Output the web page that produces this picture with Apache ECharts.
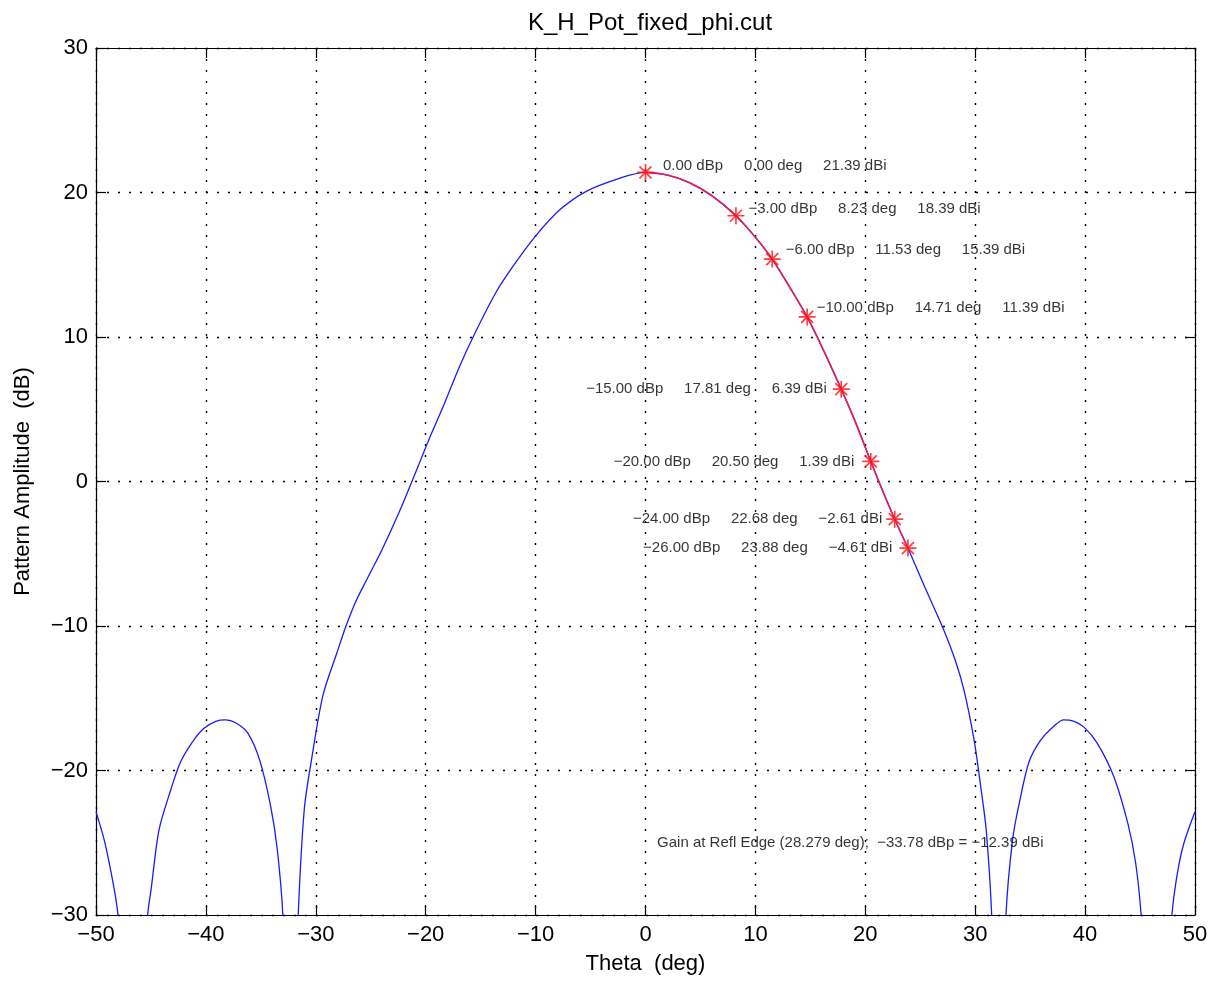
<!DOCTYPE html>
<html>
<head>
<meta charset="utf-8">
<script src="https://cdn.jsdelivr.net/npm/echarts@6/dist/echarts.min.js"></script>
<style>
html,body{margin:0;padding:0;background:#fff;}
#chart{width:1218px;height:982px;}
</style>
</head>
<body>
<div id="chart"></div>
<script>
// ---- data ----
const titleText = 'K_H_Pot_fixed_phi.cut';
const xTicks = [-50, -40, -30, -20, -10, 0, 10, 20, 30, 40, 50];
const yTicks = [-30, -20, -10, 0, 10, 20, 30];

const patternTheta = [
  -50, -49.1, -48.0, -46.6, -45.3, -45.0, -44.26, -43.2, -42.3, -41.2, -40.2, -39.1, -38.2,
  -37.3, -36.2, -35.1, -34.1, -33.5, -33.0, -32.3, -31.6, -31.05, -30.4, -29.35, -28.1, -27.2,
  -26.3, -25.3, -23.9, -22.4, -21.2, -20.4, -19.6, -18.4, -16.9, -15.5, -13.6, -12.05, -10.1,
  -7.8, -5.35, -2.3, 0, 2, 4, 6, 8.23, 10, 11.53, 13, 14.71, 16, 17.81, 19, 20.5, 21.5, 22.68,
  23.88, 25.35, 27.1, 28.2, 29.0, 29.9, 30.5, 31.0, 31.5, 32.15, 32.8, 33.4, 34.0, 34.9, 35.96,
  37.2, 38.06, 39.0, 39.9, 41.1, 42.6, 43.9, 44.6, 45.1, 46.5, 47.9, 48.4, 49.0, 50
];
const patternDb = [
  -22.85, -25.3, -30, -45, -30, -28.3, -24.1, -21.35, -19.4, -18.0, -17.1, -16.6, -16.5,
  -16.7, -17.4, -19.3, -22.5, -25.5, -30, -45, -30, -22.7, -19.3, -14.8, -11.9, -9.9,
  -8.2, -6.7, -4.6, -2.1, 0.1, 1.6, 3.1, 5.2, 8.0, 10.3, 13.1, 14.9, 16.9,
  18.8, 20.1, 21.0, 21.39, 21.21, 20.68, 19.8, 18.39, 16.9, 15.39, 13.6, 11.39, 9.4, 6.39, 4.3, 1.39, -0.5, -2.61,
  -4.61, -7.2, -10.2, -12.4, -14.5, -17.9, -21.1, -24.1, -30, -45, -30, -24.8, -22.3, -19.4, -17.9,
  -16.9, -16.5, -16.6, -17.0, -18.1, -20.4, -23.7, -26.4, -30, -45, -30, -27.1, -25.0, -22.85
];

const markerTheta = [0, 8.23, 11.53, 14.71, 17.81, 20.50, 22.68, 23.88];
const markerDbp   = [0, -3, -6, -10, -15, -20, -24, -26];
const markerDbi   = [21.39, 18.39, 15.39, 11.39, 6.39, 1.39, -2.61, -4.61];

const reflEdgeTheta = 28.279;
const reflEdgeDbp = -33.78;
const reflEdgeDbi = -12.39;
const reflNoteAnchor = [1.05, -25.0];

// ---- build ----
const minus = s => String(s).replace('-', '\u2212');
const fmt = v => minus(v.toFixed(2));

const mainData = patternTheta.map((t, i) => [t, patternDb[i]]);
const redData = mainData.filter(p => p[0] >= markerTheta[0] && p[0] <= markerTheta[markerTheta.length - 1]);

const w = 0.1, d = 0.707, e = w * 0.707;
const asterisk = 'path://' +
  `M${-w},-1L${w},-1L${w},1L${-w},1Z` +
  `M-1,${-w}L1,${-w}L1,${w}L-1,${w}Z` +
  `M${-d - e},${-d + e}L${-d + e},${-d - e}L${d + e},${d - e}L${d - e},${d + e}Z` +
  `M${-d + e},${d + e}L${-d - e},${d - e}L${d - e},${-d - e}L${d + e},${-d + e}Z`;

// label placement (style only)
const labelPlace = [
  {position: 'right', offset: [9, -7]},
  {position: 'right', offset: [4, -7]},
  {position: 'right', offset: [5, -9]},
  {position: 'right', offset: [1, -9]},
  {position: 'left', offset: [-6, 0]},
  {position: 'left', offset: [-8, 0]},
  {position: 'left', offset: [-4, 0]},
  {position: 'left', offset: [-7, 0]}
];

const FONT = '"Liberation Sans", Arial, Helvetica, sans-serif';

const markerData = markerTheta.map((t, i) => ({
  value: [t, markerDbi[i]],
  label: {
    show: true,
    position: labelPlace[i].position,
    distance: 0,
    offset: labelPlace[i].offset,
    color: '#000', fontFamily: FONT, fontSize: 15,
    formatter: fmt(markerDbp[i]) + ' dBp     ' + fmt(t) + ' deg     ' + fmt(markerDbi[i]) + ' dBi'
  }
}));

const gridLine = {show: true, lineStyle: {color: '#000', width: 1.4, type: [2, 9]}};

const chart = echarts.init(document.getElementById('chart'), null, {renderer: 'canvas'});
chart.setOption({
  animation: false,
  backgroundColor: '#fff',
  textStyle: {fontFamily: FONT},
  title: {
    text: titleText,
    left: 645,
    top: 6,
    textAlign: 'center',
    textStyle: {fontFamily: FONT, fontSize: 24, fontWeight: 'normal', color: '#000'}
  },
  grid: {left: 96, right: 23, top: 48, bottom: 67, show: false},
  xAxis: [{
    type: 'value', min: xTicks[0], max: xTicks[xTicks.length - 1], interval: 10,
    position: 'bottom',
    name: 'Theta  (deg)', nameLocation: 'middle', nameGap: 38,
    nameTextStyle: {fontFamily: FONT, fontSize: 22, color: '#000'},
    axisLine: {show: true, onZero: false, lineStyle: {color: '#000', width: 1.2}},
    axisTick: {show: true, inside: true, length: 10, lineStyle: {color: '#000', width: 1.2}},
    axisLabel: {fontFamily: FONT, fontSize: 22, color: '#000', margin: 9, formatter: v => minus(v)},
    splitLine: gridLine
  }, {
    type: 'value', min: xTicks[0], max: xTicks[xTicks.length - 1], interval: 10,
    position: 'top',
    axisLine: {show: true, onZero: false, lineStyle: {color: '#000', width: 1.2}},
    axisTick: {show: true, inside: true, length: 10, lineStyle: {color: '#000', width: 1.2}},
    axisLabel: {show: false},
    splitLine: {show: false}
  }],
  yAxis: [{
    type: 'value', min: yTicks[0], max: yTicks[yTicks.length - 1], interval: 10,
    position: 'left',
    name: 'Pattern Amplitude  (dB)', nameLocation: 'middle', nameGap: 62, nameRotate: 90,
    nameTextStyle: {fontFamily: FONT, fontSize: 22, color: '#000'},
    axisLine: {show: true, onZero: false, lineStyle: {color: '#000', width: 1.2}},
    axisTick: {show: true, inside: true, length: 10, lineStyle: {color: '#000', width: 1.2}},
    axisLabel: {fontFamily: FONT, fontSize: 22, color: '#000', margin: 8, formatter: v => minus(v)},
    splitLine: gridLine
  }, {
    type: 'value', min: yTicks[0], max: yTicks[yTicks.length - 1], interval: 10,
    position: 'right',
    axisLine: {show: true, onZero: false, lineStyle: {color: '#000', width: 1.2}},
    axisTick: {show: true, inside: true, length: 10, lineStyle: {color: '#000', width: 1.2}},
    axisLabel: {show: false},
    splitLine: {show: false}
  }],
  series: [{
    name: 'pattern', type: 'line', data: mainData,
    xAxisIndex: 0, yAxisIndex: 0,
    showSymbol: false, smooth: 0.3, clip: true,
    lineStyle: {color: '#1a1aff', width: 1.3}, z: 2
  }, {
    name: 'beam', type: 'line', data: redData,
    xAxisIndex: 0, yAxisIndex: 0,
    showSymbol: false, smooth: 0.3, clip: true,
    lineStyle: {color: '#e81e5a', width: 1.6}, z: 3
  }, {
    name: 'markers', type: 'scatter', data: markerData,
    xAxisIndex: 0, yAxisIndex: 0,
    symbol: asterisk, symbolSize: 17,
    itemStyle: {color: '#ff1010'},
    z: 5
  }, {
    name: 'note', type: 'scatter',
    xAxisIndex: 0, yAxisIndex: 0,
    data: [{
      value: reflNoteAnchor,
      label: {
        show: true, position: 'right', distance: 0,
        color: '#000', fontFamily: FONT, fontSize: 15,
        formatter: 'Gain at Refl Edge (' + reflEdgeTheta.toFixed(3) + ' deg);  ' + fmt(reflEdgeDbp) + ' dBp = ' + fmt(reflEdgeDbi) + ' dBi'
      }
    }],
    symbolSize: 0,
    z: 5
  }]
});
</script>
</body>
</html>
